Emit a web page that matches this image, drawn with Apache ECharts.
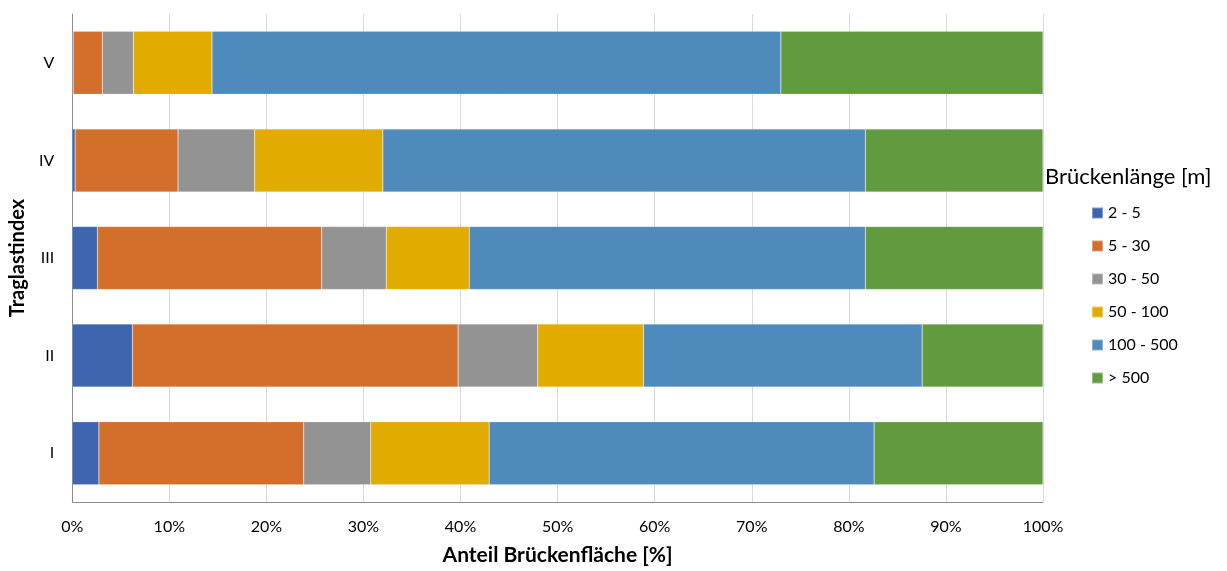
<!DOCTYPE html>
<html>
<head>
<meta charset="utf-8">
<script src="https://cdn.jsdelivr.net/npm/echarts@6/dist/echarts.min.js"></script>
<style>
  html, body { margin: 0; padding: 0; background: #fff; }
  #chart { width: 1227px; height: 571px; }
</style>
</head>
<body>
<div id="chart"></div>
<script>
// Load-bearing index classes (bottom to top)
const categories = ['I', 'II', 'III', 'IV', 'V'];

// Share of bridge deck area per bridge-length class [%], per category
const s2to5     = [2.75, 6.2, 2.6, 0.3, 0.1];
const s5to30    = [21.1, 33.55, 23.1, 10.6, 3.0];
const s30to50   = [6.9, 8.2, 6.65, 7.9, 3.2];
const s50to100  = [12.2, 10.9, 8.55, 13.2, 8.1];
const s100to500 = [39.65, 28.7, 40.8, 49.7, 58.6];
const sOver500  = [17.4, 12.45, 18.3, 18.3, 27.0];

const seriesNames = ['2 - 5', '5 - 30', '30 - 50', '50 - 100', '100 - 500', '> 500'];
const seriesData = [s2to5, s5to30, s30to50, s50to100, s100to500, sOver500];
const colors = ['#3E65AE', '#D36E2B', '#939393', '#E2AB00', '#4F8ABD', '#629B3F'];

const xTicks = [0, 10, 20, 30, 40, 50, 60, 70, 80, 90, 100];

const FONT = 'Lato, "Open Sans", sans-serif';

const chart = echarts.init(document.getElementById('chart'), null, { renderer: 'canvas' });

chart.setOption({
  animation: false,
  textStyle: { fontFamily: FONT },
  color: colors,
  grid: { left: 71, right: 184, top: 14, bottom: 64, containLabel: false },
  title: {
    text: 'Brückenlänge [m]',
    left: 1045,
    top: 166,
    padding: 0,
    textStyle: { fontFamily: FONT, fontSize: 22, fontWeight: 'normal', color: '#000' }
  },
  legend: {
    orient: 'vertical',
    left: 1091,
    top: 205,
    padding: 0,
    itemWidth: 11,
    itemHeight: 11,
    itemGap: 17,
    icon: 'rect',
    data: seriesNames,
    textStyle: { fontFamily: FONT, fontSize: 16, color: '#000', lineHeight: 16 }
  },
  xAxis: {
    type: 'value',
    min: xTicks[0],
    max: xTicks[xTicks.length - 1],
    interval: 10,
    name: 'Anteil Brückenfläche [%]',
    nameLocation: 'middle',
    nameGap: 43,
    nameTextStyle: { fontFamily: FONT, fontSize: 21, fontWeight: 'bold', color: '#000' },
    axisLine: { show: true, lineStyle: { color: '#8c8c8c', width: 1 } },
    axisTick: { show: false },
    axisLabel: {
      formatter: v => v + '%',
      fontFamily: FONT, fontSize: 16, color: '#000', margin: 17
    },
    splitLine: { show: true, lineStyle: { color: '#d9d9d9', width: 1 } }
  },
  yAxis: {
    type: 'category',
    data: categories,
    name: 'Traglastindex',
    nameLocation: 'middle',
    nameRotate: 90,
    nameGap: 38,
    nameTextStyle: { fontFamily: FONT, fontSize: 20, fontWeight: 'bold', color: '#000' },
    axisLine: { show: true, lineStyle: { color: '#8c8c8c', width: 1 } },
    axisTick: { show: false },
    axisLabel: { fontFamily: FONT, fontSize: 16, color: '#000', margin: 18 },
    splitLine: { show: false }
  },
  series: seriesNames.map((name, i) => ({
    name: name,
    type: 'bar',
    stack: 'total',
    barWidth: '64.5%',
    data: seriesData[i],
    itemStyle: { color: colors[i], borderColor: 'rgba(255,255,255,0.35)', borderWidth: 0.5 }
  }))
});
</script>
</body>
</html>
